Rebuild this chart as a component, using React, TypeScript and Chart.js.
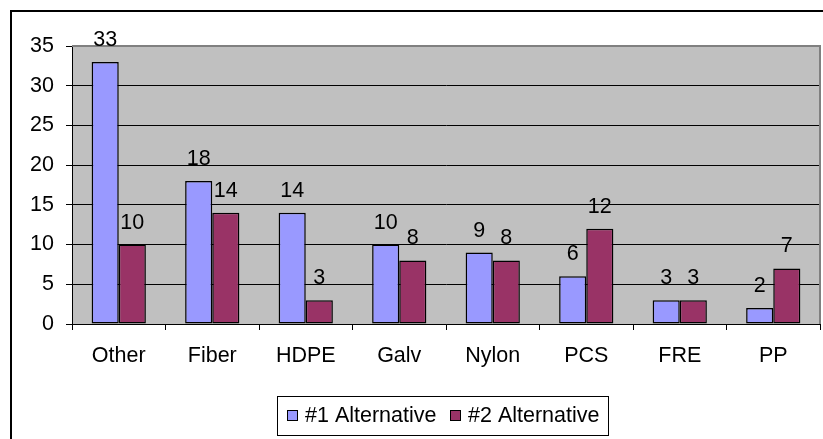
import { useEffect, useRef } from "react";
import { Chart, registerables } from "chart.js";

Chart.register(...registerables);

const categories = ["Other", "Fiber", "HDPE", "Galv", "Nylon", "PCS", "FRE", "PP"];
const alt1 = [33, 18, 14, 10, 9, 6, 3, 2];
const alt2 = [10, 14, 3, 8, 8, 12, 3, 7];
const seriesNames = ["#1 Alternative", "#2 Alternative"];
const seriesColors = ["#9999FF", "#993366"];
const yMin = 0;
const yMax = 35;
const yStep = 5;

const FONT_FAMILY = "'Liberation Sans', Arial, sans-serif";
const FONT_SIZE = 21.5;

const decorPlugin = {
  id: "decor",
  beforeDraw(chart: any) {
    const { ctx, chartArea } = chart;
    const { left, top, right, bottom } = chartArea;
    ctx.save();
    ctx.fillStyle = "#FFFFFF";
    ctx.fillRect(0, 0, chart.width, chart.height);
    ctx.fillStyle = "#C0C0C0";
    ctx.fillRect(left, top, right - left, bottom - top);
    ctx.restore();
  },
  afterDraw(chart: any) {
    const { ctx, chartArea } = chart;
    const { left, top, right, bottom } = chartArea;
    ctx.save();
    // plot top/right border
    ctx.strokeStyle = "#808080";
    ctx.lineWidth = 2;
    ctx.beginPath();
    ctx.moveTo(left, top);
    ctx.lineTo(right, top);
    ctx.lineTo(right, bottom);
    ctx.stroke();
    // outer frame
    ctx.strokeStyle = "#000000";
    ctx.lineWidth = 2;
    ctx.beginPath();
    ctx.moveTo(11, chart.height + 2);
    ctx.lineTo(11, 11);
    ctx.lineTo(chart.width + 2, 11);
    ctx.stroke();
    // data labels
    ctx.fillStyle = "#000000";
    ctx.font = `${FONT_SIZE}px ${FONT_FAMILY}`;
    ctx.textAlign = "center";
    ctx.textBaseline = "alphabetic";
    chart.data.datasets.forEach((ds: any, i: number) => {
      const meta = chart.getDatasetMeta(i);
      meta.data.forEach((bar: any, j: number) => {
        ctx.fillText(String(ds.data[j]), bar.x, bar.y - 16);
      });
    });
    // legend
    ctx.strokeStyle = "#000000";
    ctx.lineWidth = 1;
    ctx.strokeRect(277.5, 396.5, 331, 39);
    const items = [
      { sq: 287, tx: 305 },
      { sq: 450, tx: 468 },
    ];
    ctx.textAlign = "left";
    ctx.textBaseline = "middle";
    chart.data.datasets.forEach((ds: any, i: number) => {
      const it = items[i];
      ctx.fillStyle = ds.backgroundColor;
      ctx.fillRect(it.sq, 410, 10, 10);
      ctx.strokeRect(it.sq + 0.5, 410.5, 10, 10);
      ctx.fillStyle = "#000000";
      ctx.fillText(ds.label, it.tx, 416);
    });
    ctx.restore();
  },
};

export default function App() {
  const ref = useRef<HTMLCanvasElement | null>(null);
  useEffect(() => {
    if (!ref.current) return;
    const chart = new Chart(ref.current, {
      type: "bar",
      data: {
        labels: categories,
        datasets: [
          {
            label: seriesNames[0],
            data: alt1,
            backgroundColor: seriesColors[0],
            borderColor: "#000000",
            borderWidth: 1.5,
            borderSkipped: false,
            categoryPercentage: 0.58,
            barPercentage: 1.0,
          },
          {
            label: seriesNames[1],
            data: alt2,
            backgroundColor: seriesColors[1],
            borderColor: "#000000",
            borderWidth: 1.5,
            borderSkipped: false,
            categoryPercentage: 0.58,
            barPercentage: 1.0,
          },
        ],
      },
      options: {
        animation: false,
        responsive: false,
        layout: { padding: { left: 0, top: 46, right: 3, bottom: 55 } },
        plugins: {
          legend: { display: false },
          tooltip: { enabled: false },
        },
        scales: {
          x: {
            afterFit: (s: any) => {
              s.height = 60;
            },
            grid: {
              offset: true,
              drawOnChartArea: false,
              drawTicks: true,
              tickLength: 6,
              tickColor: "#000000",
            },
            border: { display: true, color: "#000000", width: 1 },
            ticks: {
              color: "#000000",
              padding: 13,
              font: { family: FONT_FAMILY, size: FONT_SIZE },
              maxRotation: 0,
              autoSkip: false,
            },
          },
          y: {
            min: yMin,
            max: yMax,
            afterFit: (s: any) => {
              s.width = 72;
            },
            grid: {
              color: (c: any) => (c.tick && c.tick.value === yMax ? "rgba(0,0,0,0)" : "#000000"),
              lineWidth: 1,
              drawTicks: true,
              tickLength: 6,
              tickColor: "#000000",
            },
            border: { display: true, color: "#000000", width: 1 },
            ticks: {
              stepSize: yStep,
              color: "#000000",
              padding: 12,
              font: { family: FONT_FAMILY, size: FONT_SIZE },
            },
          },
        },
      },
      plugins: [decorPlugin],
    });
    return () => chart.destroy();
  }, []);
  return (
    <div style={{ position: "absolute", left: 0, top: 0, width: 823, height: 439 }}>
      <canvas ref={ref} width={823} height={439} style={{ display: "block", width: 823, height: 439 }} />
    </div>
  );
}
